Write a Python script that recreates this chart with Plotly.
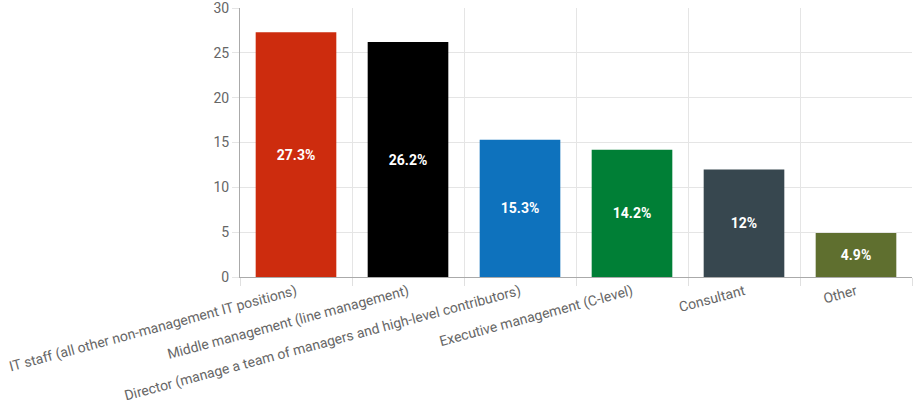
import plotly.graph_objects as go

categories = [
    "IT staff (all other non-management IT positions)",
    "Middle management (line management)",
    "Director (manage a team of managers and high-level contributors)",
    "Executive management (C-level)",
    "Consultant",
    "Other",
]
values = [27.3, 26.2, 15.3, 14.2, 12, 4.9]
bar_colors = ["#cd2c0e", "#000000", "#0e72bd", "#007f36", "#37474f", "#5f6f2f"]

fig = go.Figure()
fig.add_trace(go.Bar(
    x=categories,
    y=values,
    marker_color=bar_colors,
    marker_line_width=0,
    text=[f"{v:g}%" for v in values],
    textposition="inside",
    insidetextanchor="middle",
    textfont=dict(color="white", size=14, family="Roboto"),
    texttemplate="<b>%{text}</b>",
    hoverinfo="x+y",
))

fig.update_layout(
    width=914, height=400,
    margin=dict(l=240, r=2, t=8, b=123),
    plot_bgcolor="white",
    paper_bgcolor="white",
    bargap=0.28,
    showlegend=False,
    font=dict(family="Roboto", color="#666666"),
)
fig.update_xaxes(
    type="category",
    tickson="boundaries",
    ticks="outside", ticklen=8, tickcolor="#e0e0e0",
    showgrid=True, gridcolor="#e5e5e5",
    showline=True, linecolor="#aaaaaa",
    tickangle=-15,
    automargin=False,
    ticklabeloverflow="allow",
    tickfont=dict(size=14, color="#666666"),
)
fig.update_yaxes(
    range=[0, 30], dtick=5,
    ticks="outside", ticklen=7, tickcolor="#e5e5e5",
    showgrid=True, gridcolor="#e5e5e5",
    showline=True, linecolor="#aaaaaa",
    zeroline=False,
    automargin=False,
    ticklabeloverflow="allow",
    tickfont=dict(size=14, color="#666666"),
)

# drop the default 8px page margin so the figure sits at the window's corner
fig.write_html("out.html", config={"displayModeBar": False},
               post_script="document.body.style.margin='0';")
